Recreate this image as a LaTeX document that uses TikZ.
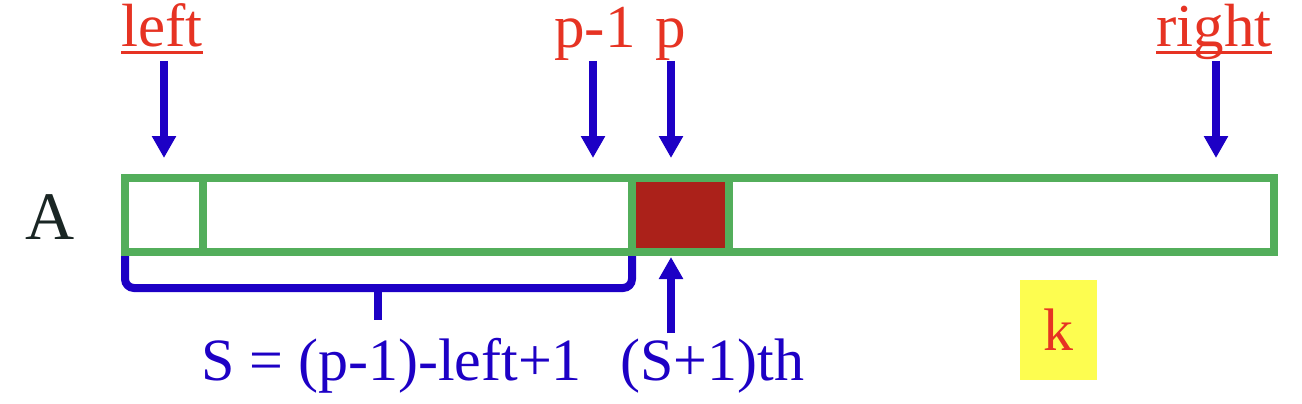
\documentclass[tikz,border=0pt]{standalone}
\usepackage{fontspec}
\setmainfont{Liberation Serif}
\usetikzlibrary{arrows.meta}
\definecolor{tred}{HTML}{E63323}
\definecolor{tblue}{HTML}{1D00C5}
\definecolor{tgreen}{HTML}{53AE5B}
\definecolor{tdark}{HTML}{AB211A}
\definecolor{tyellow}{HTML}{FDFD50}
\definecolor{tblack}{HTML}{1A2624}
\tikzset{
  cellbox/.style={draw=tgreen, line width=8pt, minimum height=74pt, inner sep=0pt, anchor=center},
  lbl/.style={inner sep=0pt, anchor=base, text=tred, font=\fontsize{61}{70}\selectfont},
  btxt/.style={inner sep=0pt, anchor=base, text=tblue, font=\fontsize{60}{70}\selectfont},
  arr/.style={draw=tblue, line width=8pt, -{Triangle[width=23pt,length=22pt]}},
  ul/.style={draw=tred, line width=3pt},
  brace/.style={draw=tblue, line width=8pt, rounded corners=9pt},
}
\begin{document}
\begin{tikzpicture}[x=1pt,y=-1pt]
\useasboundingbox (0,0) rectangle (1302,404);
% brace under the left part
\draw[brace] (125,252) -- (125,288) -- (632,288) -- (632,252);
\draw[draw=tblue, line width=8pt] (378,288) -- (378,320);
\fill[tblue] (370,288) .. controls (376,289) and (376,292) .. (376,298) -- (380,298) .. controls (380,292) and (380,289) .. (386,288) -- cycle;
% array cells
\node[cellbox, minimum width=78pt] (c0) at (164,215) {};
\node[cellbox, minimum width=429pt] (c1) at (417.5,215) {};
\node[cellbox, minimum width=97pt, fill=tdark] (cp) at (680.5,215) {};
\node[cellbox, minimum width=545pt] (c3) at (1001.5,215) {};
% array name
\node[inner sep=0pt, anchor=base, text=tblack, font=\fontsize{68}{78}\selectfont] (A) at (50,239) {A};
% top labels
\node[lbl] (lleft) at (162,47) {left};
\draw[ul] ([yshift=-6pt]lleft.base west) -- ([yshift=-6pt]lleft.base east);
\node[lbl] (lpm) at (595,48) {p-1};
\node[lbl] (lp) at (671,48) {p};
\node[lbl] (lright) at (1214,47) {right};
\draw[ul] ([yshift=-6pt]lright.base west) -- ([yshift=-6pt]lright.base east);
% arrow end points
\coordinate (sL) at (164,61);  \coordinate (eL) at (164,158);
\coordinate (sPm) at (593,61); \coordinate (ePm) at (593,158);
\coordinate (sP) at (671,61);  \coordinate (eP) at (671,158);
\coordinate (sR) at (1216,61); \coordinate (eR) at (1216,158);
\coordinate (sU) at (671,333); \coordinate (eU) at (671,257);
\draw[arr] (sL) -- (eL);
\draw[arr] (sPm) -- (ePm);
\draw[arr] (sP) -- (eP);
\draw[arr] (sR) -- (eR);
\draw[arr] (sU) -- (eU);
% bottom texts
\node[btxt] (sform) at (391.5,380) {S = (p-1)-left+1};
\node[btxt] (sth) at (712.5,380) {(S+1)th};
\node[fill=tyellow, minimum width=77pt, minimum height=100pt, inner sep=0pt, text=tred, font=\fontsize{60}{70}\selectfont] (k) at (1058.5,330) {k};
\end{tikzpicture}
\end{document}
